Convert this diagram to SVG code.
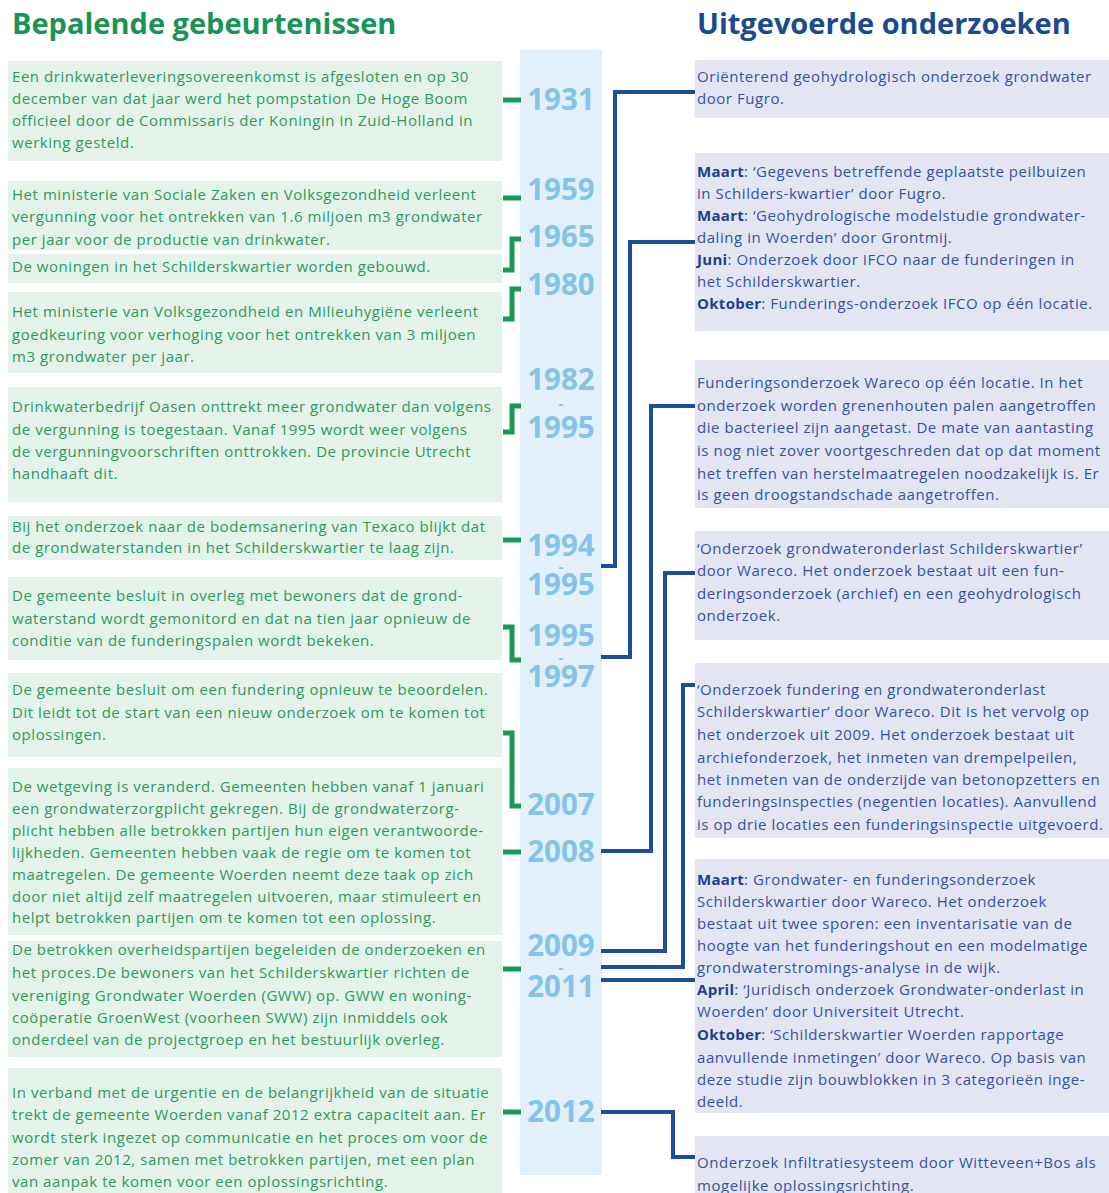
<svg xmlns="http://www.w3.org/2000/svg" width="1109" height="1193" viewBox="0 0 1109 1193">
<style>
.h1{font-family:"Open Sans","Liberation Sans",sans-serif;font-weight:700;font-size:29px}
.hg{fill:#1a9356}
.hb{fill:#1c4a8e}
.tg{font-family:"Open Sans","Liberation Sans",sans-serif;font-size:15px;letter-spacing:0.55px;fill:#2b9a5e}
.tb{font-family:"Open Sans","Liberation Sans",sans-serif;font-size:15px;letter-spacing:0.55px;fill:#3553a4}
.b{font-weight:700;fill:#1f3f8f;letter-spacing:0.3px}
.gbox{fill:#e4f3ea}
.bbox{fill:#e3e6f2}
.yr{font-family:"Open Sans","Liberation Sans",sans-serif;font-weight:700;font-size:29.5px;fill:#83c4e8;text-anchor:middle}
.ds{font-family:"Open Sans","Liberation Sans",sans-serif;font-weight:700;font-size:15px;fill:#83c4e8;text-anchor:middle}
.gc{fill:none;stroke:#179a57;stroke-width:5}
.bc{fill:none;stroke:#1d4e9b;stroke-width:4}
</style>

<text class="h1 hg" x="12" y="34">Bepalende gebeurtenissen</text>
<text class="h1 hb" x="697" y="34">Uitgevoerde onderzoeken</text>

<rect id="timeline-bar" x="520" y="50" width="82" height="1125" fill="#e1f0fa"/>

<g id="years">
<text class="yr" x="561" y="110">1931</text>
<text class="yr" x="561" y="200">1959</text>
<text class="yr" x="561" y="247">1965</text>
<text class="yr" x="561" y="295">1980</text>
<text class="yr" x="561" y="390">1982</text>
<text class="ds" x="561" y="409">-</text>
<text class="yr" x="561" y="438">1995</text>
<text class="yr" x="561" y="556">1994</text>
<text class="ds" x="561" y="572">-</text>
<text class="yr" x="561" y="595">1995</text>
<text class="yr" x="561" y="646">1995</text>
<text class="ds" x="561" y="663">-</text>
<text class="yr" x="561" y="687">1997</text>
<text class="yr" x="561" y="815">2007</text>
<text class="yr" x="561" y="862">2008</text>
<text class="yr" x="561" y="956">2009</text>
<text class="ds" x="561" y="973">-</text>
<text class="yr" x="561" y="997">2011</text>
<text class="yr" x="561" y="1122">2012</text>
</g>

<g id="connectors">
<path class="gc" d="M503 100H521"/>
<path class="gc" d="M503 198H521"/>
<path class="gc" d="M503 270H512V239H521"/>
<path class="gc" d="M503 319H512V289H521"/>
<path class="gc" d="M503 432H512V406H521"/>
<path class="gc" d="M503 540H521"/>
<path class="gc" d="M503 627H512V660H521"/>
<path class="gc" d="M503 733H512V806H521"/>
<path class="gc" d="M503 852H521"/>
<path class="gc" d="M503 969H521"/>
<path class="gc" d="M503 1112H521"/>

<path class="bc" d="M601 566H615V92H697"/>
<path class="bc" d="M601 657H630V242H697"/>
<path class="bc" d="M601 851H651V406H697"/>
<path class="bc" d="M601 951H665V573H697"/>
<path class="bc" d="M601 967H683V685H697"/>
<path class="bc" d="M601 980H697"/>
<path class="bc" d="M601 1112H673V1157H697"/>
</g>

<g id="event-1931"><rect class="gbox" x="8" y="61" width="494" height="100"/>
<text class="tg" x="12"><tspan x="12" y="82">Een drinkwaterleveringsovereenkomst is afgesloten en op 30</tspan><tspan x="12" y="104">december van dat jaar werd het pompstation De Hoge Boom</tspan><tspan x="12" y="126">officieel door de Commissaris der Koningin in Zuid-Holland in</tspan><tspan x="12" y="148">werking gesteld.</tspan></text></g>

<g id="event-1959"><rect class="gbox" x="8" y="181" width="494" height="69"/>
<text class="tg"><tspan x="12" y="200">Het ministerie van Sociale Zaken en Volksgezondheid verleent</tspan><tspan x="12" y="222">vergunning voor het ontrekken van 1.6 miljoen m3 grondwater</tspan><tspan x="12" y="245">per jaar voor de productie van drinkwater.</tspan></text></g>

<g id="event-1965"><rect class="gbox" x="8" y="254" width="494" height="29"/>
<text class="tg"><tspan x="12" y="272">De woningen in het Schilderskwartier worden gebouwd.</tspan></text></g>

<g id="event-1980"><rect class="gbox" x="8" y="292" width="494" height="81"/>
<text class="tg"><tspan x="12" y="317">Het ministerie van Volksgezondheid en Milieuhygiëne verleent</tspan><tspan x="12" y="340">goedkeuring voor verhoging voor het ontrekken van 3 miljoen</tspan><tspan x="12" y="362">m3 grondwater per jaar.</tspan></text></g>

<g id="event-1982"><rect class="gbox" x="8" y="387" width="494" height="115"/>
<text class="tg"><tspan x="12" y="412">Drinkwaterbedrijf Oasen onttrekt meer grondwater dan volgens</tspan><tspan x="12" y="435">de vergunning is toegestaan. Vanaf 1995 wordt weer volgens</tspan><tspan x="12" y="457">de vergunningvoorschriften onttrokken. De provincie Utrecht</tspan><tspan x="12" y="479">handhaaft dit.</tspan></text></g>

<g id="event-1994"><rect class="gbox" x="8" y="516" width="494" height="44"/>
<text class="tg"><tspan x="12" y="532">Bij het onderzoek naar de bodemsanering van Texaco blijkt dat</tspan><tspan x="12" y="553">de grondwaterstanden in het Schilderskwartier te laag zijn.</tspan></text></g>

<g id="event-1995"><rect class="gbox" x="8" y="577" width="494" height="83"/>
<text class="tg"><tspan x="12" y="601">De gemeente besluit in overleg met bewoners dat de grond-</tspan><tspan x="12" y="624">waterstand wordt gemonitord en dat na tien jaar opnieuw de</tspan><tspan x="12" y="646">conditie van de funderingspalen wordt bekeken.</tspan></text></g>

<g id="event-2007a"><rect class="gbox" x="8" y="673" width="494" height="84"/>
<text class="tg"><tspan x="12" y="695">De gemeente besluit om een fundering opnieuw te beoordelen.</tspan><tspan x="12" y="718">Dit leidt tot de start van een nieuw onderzoek om te komen tot</tspan><tspan x="12" y="740">oplossingen.</tspan></text></g>

<g id="event-2008"><rect class="gbox" x="8" y="768" width="494" height="167"/>
<text class="tg"><tspan x="12" y="792">De wetgeving is veranderd. Gemeenten hebben vanaf 1 januari</tspan><tspan x="12" y="814">een grondwaterzorgplicht gekregen. Bij de grondwaterzorg-</tspan><tspan x="12" y="836">plicht hebben alle betrokken partijen hun eigen verantwoorde-</tspan><tspan x="12" y="858">lijkheden. Gemeenten hebben vaak de regie om te komen tot</tspan><tspan x="12" y="880">maatregelen. De gemeente Woerden neemt deze taak op zich</tspan><tspan x="12" y="902">door niet altijd zelf maatregelen uitvoeren, maar stimuleert en</tspan><tspan x="12" y="923">helpt betrokken partijen om te komen tot een oplossing.</tspan></text></g>

<g id="event-2009"><rect class="gbox" x="8" y="941" width="494" height="116"/>
<text class="tg"><tspan x="12" y="955">De betrokken overheidspartijen begeleiden de onderzoeken en</tspan><tspan x="12" y="978">het proces.De bewoners van het Schilderskwartier richten de</tspan><tspan x="12" y="1001">vereniging Grondwater Woerden (GWW) op. GWW en woning-</tspan><tspan x="12" y="1023">coöperatie GroenWest (voorheen SWW) zijn inmiddels ook</tspan><tspan x="12" y="1045">onderdeel van de projectgroep en het bestuurlijk overleg.</tspan></text></g>

<g id="event-2012"><rect class="gbox" x="8" y="1068" width="494" height="125"/>
<text class="tg"><tspan x="12" y="1098">In verband met de urgentie en de belangrijkheid van de situatie</tspan><tspan x="12" y="1120">trekt de gemeente Woerden vanaf 2012 extra capaciteit aan. Er</tspan><tspan x="12" y="1143">wordt sterk ingezet op communicatie en het proces om voor de</tspan><tspan x="12" y="1165">zomer van 2012, samen met betrokken partijen, met een plan</tspan><tspan x="12" y="1187">van aanpak te komen voor een oplossingsrichting.</tspan></text></g>

<g id="study-1"><rect class="bbox" x="695" y="60" width="414" height="58"/>
<text class="tb"><tspan x="697" y="82">Oriënterend geohydrologisch onderzoek grondwater</tspan><tspan x="697" y="104">door Fugro.</tspan></text></g>

<g id="study-2"><rect class="bbox" x="695" y="153" width="414" height="178"/>
<text class="tb"><tspan x="697" y="177"><tspan class="b">Maart</tspan>: ‘Gegevens betreffende geplaatste peilbuizen</tspan><tspan x="697" y="199">in Schilders-kwartier’ door Fugro.</tspan><tspan x="697" y="221"><tspan class="b">Maart</tspan>: ‘Geohydrologische modelstudie grondwater-</tspan><tspan x="697" y="243">daling in Woerden’ door Grontmij.</tspan><tspan x="697" y="265"><tspan class="b">Juni</tspan>: Onderzoek door IFCO naar de funderingen in</tspan><tspan x="697" y="287">het Schilderskwartier.</tspan><tspan x="697" y="309"><tspan class="b">Oktober</tspan>: Funderings-onderzoek IFCO op één locatie.</tspan></text></g>

<g id="study-3"><rect class="bbox" x="695" y="360" width="414" height="148"/>
<text class="tb"><tspan x="697" y="388">Funderingsonderzoek Wareco op één locatie. In het</tspan><tspan x="697" y="411">onderzoek worden grenenhouten palen aangetroffen</tspan><tspan x="697" y="433">die bacterieel zijn aangetast. De mate van aantasting</tspan><tspan x="697" y="456">is nog niet zover voortgeschreden dat op dat moment</tspan><tspan x="697" y="479">het treffen van herstelmaatregelen noodzakelijk is. Er</tspan><tspan x="697" y="500">is geen droogstandschade aangetroffen.</tspan></text></g>

<g id="study-4"><rect class="bbox" x="695" y="531" width="414" height="109"/>
<text class="tb"><tspan x="697" y="554">‘Onderzoek grondwateronderlast Schilderskwartier’</tspan><tspan x="697" y="576">door Wareco. Het onderzoek bestaat uit een fun-</tspan><tspan x="697" y="599">deringsonderzoek (archief) en een geohydrologisch</tspan><tspan x="697" y="621">onderzoek.</tspan></text></g>

<g id="study-5"><rect class="bbox" x="695" y="663" width="414" height="175"/>
<text class="tb"><tspan x="697" y="695">‘Onderzoek fundering en grondwateronderlast</tspan><tspan x="697" y="717">Schilderskwartier’ door Wareco. Dit is het vervolg op</tspan><tspan x="697" y="740">het onderzoek uit 2009. Het onderzoek bestaat uit</tspan><tspan x="697" y="763">archiefonderzoek, het inmeten van drempelpeilen,</tspan><tspan x="697" y="785">het inmeten van de onderzijde van betonopzetters en</tspan><tspan x="697" y="807">funderingsinspecties (negentien locaties). Aanvullend</tspan><tspan x="697" y="830">is op drie locaties een funderingsinspectie uitgevoerd.</tspan></text></g>

<g id="study-6"><rect class="bbox" x="695" y="859" width="414" height="254"/>
<text class="tb"><tspan x="697" y="885"><tspan class="b">Maart</tspan>: Grondwater- en funderingsonderzoek</tspan><tspan x="697" y="907">Schilderskwartier door Wareco. Het onderzoek</tspan><tspan x="697" y="929">bestaat uit twee sporen: een inventarisatie van de</tspan><tspan x="697" y="951">hoogte van het funderingshout en een modelmatige</tspan><tspan x="697" y="973">grondwaterstromings-analyse in de wijk.</tspan><tspan x="697" y="995"><tspan class="b">April</tspan>: ‘Juridisch onderzoek Grondwater-onderlast in</tspan><tspan x="697" y="1017">Woerden’ door Universiteit Utrecht.</tspan><tspan x="697" y="1040"><tspan class="b">Oktober</tspan>: ‘Schilderskwartier Woerden rapportage</tspan><tspan x="697" y="1063">aanvullende inmetingen’ door Wareco. Op basis van</tspan><tspan x="697" y="1085">deze studie zijn bouwblokken in 3 categorieën inge-</tspan><tspan x="697" y="1107">deeld.</tspan></text></g>

<g id="study-7"><rect class="bbox" x="695" y="1136" width="414" height="57"/>
<text class="tb"><tspan x="697" y="1168">Onderzoek Infiltratiesysteem door Witteveen+Bos als</tspan><tspan x="697" y="1191">mogelijke oplossingsrichting.</tspan></text></g>
</svg>
